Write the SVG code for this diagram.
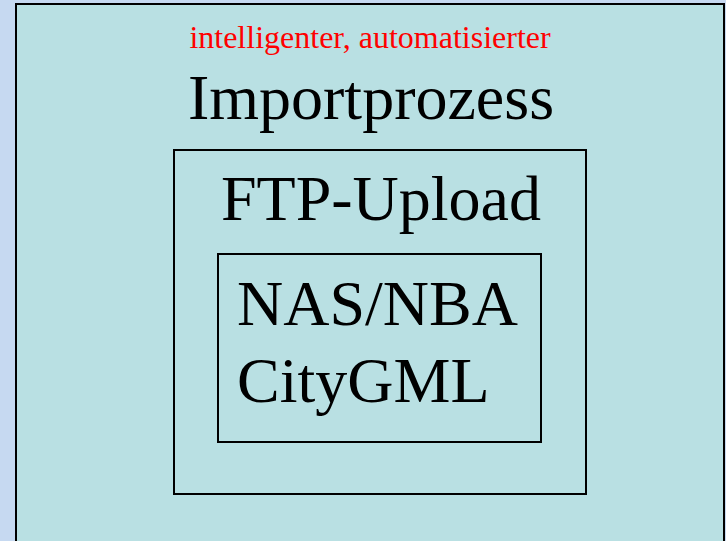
<svg xmlns="http://www.w3.org/2000/svg" width="726" height="541" viewBox="0 0 726 541">
<style>
.box{fill:none;stroke:#000;stroke-width:2}
.t{font-family:"Liberation Serif","Times New Roman",serif;fill:#000}
</style>
<rect x="0" y="0" width="726" height="541" fill="#c6d9f1"/>
<g id="import">
<rect x="16" y="4" width="708" height="545" fill="#b9e0e3" stroke="#000" stroke-width="2"/>
<text class="t" x="370" y="48" font-size="32" fill="#ff0000" style="fill:#ff0000" text-anchor="middle">intelligenter, automatisierter</text>
<text class="t" x="371" y="119" font-size="64" text-anchor="middle">Importprozess</text>
</g>
<g id="ftp">
<rect class="box" x="174" y="150" width="412" height="344"/>
<text class="t" x="381" y="220" font-size="64" text-anchor="middle">FTP-Upload</text>
</g>
<g id="nas">
<rect class="box" x="218" y="254" width="323" height="188"/>
<text class="t" x="237" y="325" font-size="64">NAS/NBA</text>
<text class="t" x="237" y="402" font-size="64">CityGML</text>
</g>
<g id="connectors"></g>
</svg>
